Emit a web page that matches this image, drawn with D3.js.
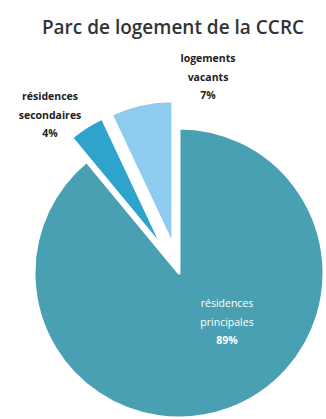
<!DOCTYPE html>
<html>
<head>
<meta charset="utf-8">
<script src="https://cdn.jsdelivr.net/npm/d3@7"></script>
<style>
  body { margin: 0; background: #fff; }
  svg { display: block; }
</style>
</head>
<body>
<svg id="chart" width="326" height="419"></svg>
<script>
// Chart data
const categories = ['résidences principales', 'résidences secondaires', 'logements vacants'];
const values = [89, 4, 7];
const labelLines = [
  ['résidences', 'principales', '89%'],
  ['résidences', 'secondaires', '4%'],
  ['logements', 'vacants', '7%']
];
const colors = ['#4aa0b3', '#2ea3cc', '#8ecbee'];

/**
 * Draw the pie
 */
const drawChart = () => {
  const svg = d3.select('#chart');
  const cx = 179, cy = 273, radius = 145, explode = 28;

  // Title
  svg.append('text')
    .attr('x', 173)
    .attr('y', 34)
    .attr('text-anchor', 'middle')
    .style('font-family', 'Open Sans')
    .style('font-weight', 600)
    .style('font-size', '19px')
    .style('fill', '#333')
    .text('Parc de logement de la CCRC');

  const pie = d3.pie().sort(null).value(d => d);
  const arcs = pie(values);
  const arc = d3.arc().innerRadius(0).outerRadius(radius);

  const g = svg.append('g')
    .attr('transform', `translate(${cx},${cy})`);

  // Slices, the small ones pulled out
  g.selectAll('path')
    .data(arcs)
    .join('path')
    .attr('d', arc)
    .attr('fill', (d, i) => colors[i])
    .attr('stroke', '#fff')
    .attr('stroke-width', 3)
    .attr('stroke-linejoin', 'round')
    .attr('transform', (d, i) => {
      if (i === 0) return null;
      const a = (d.startAngle + d.endAngle) / 2;
      return `translate(${explode * Math.sin(a)},${-explode * Math.cos(a)})`;
    });

  // Label anchors, relative to pie center
  const labelPos = [
    {x: 48, y: 34, color: '#fff', weight: [400, 400, 700]},
    {x: -129, y: -173, color: '#222', weight: [700, 700, 700]},
    {x: 29, y: -211, color: '#222', weight: [700, 700, 700]}
  ];

  arcs.forEach((d, i) => {
    const p = labelPos[i];
    const t = g.append('text')
      .attr('text-anchor', 'middle')
      .style('font-family', 'Open Sans')
      .style('font-size', '10.5px')
      .style('fill', p.color);
    labelLines[i].forEach((line, j) => {
      t.append('tspan')
        .attr('x', p.x)
        .attr('y', p.y + j * 18.5)
        .style('font-weight', p.weight[j])
        .text(line);
    });
  });
};

drawChart();
</script>
</body>
</html>
